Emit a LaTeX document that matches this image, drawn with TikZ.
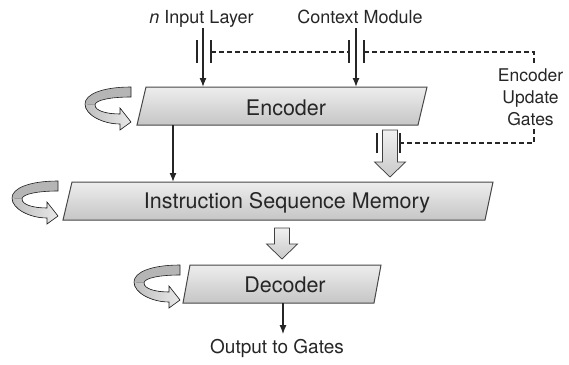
\documentclass[tikz,border=0pt]{standalone}
\usepackage{fontspec}
\setmainfont{TeX Gyre Heros}
\usetikzlibrary{arrows.meta}

\definecolor{ink}{HTML}{262626}
\definecolor{edge}{HTML}{474747}

\tikzset{
  boxshape/.style={draw=edge, line width=1pt, top color=gray!14, bottom color=gray!45},
  boxtext/.style={font=\fontsize{21.5}{24}\selectfont, text=ink, inner sep=0pt, anchor=base},
  toplab/.style={font=\fontsize{18}{22}\selectfont, text=ink, inner sep=0pt, anchor=base, text depth=5pt},
  flow/.style={draw=ink, line width=1.3pt, -{Latex[length=9pt,width=7pt]}},
  gatebar/.style={draw=ink, line width=1.5pt},
  gateline/.style={draw=ink, line width=1.2pt, dash pattern=on 5pt off 3pt},
  blockarrow/.style={draw=gray!50!black, line width=0.7pt, top color=gray!12, bottom color=gray!42},
  ribback/.style={fill=gray!58},
  ribfront/.style={left color=gray!50, right color=gray!18},
  ribedge/.style={draw=gray!25!black, line width=0.6pt},
}

% ribbon-style loop arrow; #1,#2 = upper right corner of its tail
\newcommand\loopribbon[2]{%
  \begin{scope}[shift={(#1,#2)}]
    \fill[ribback] (0,0) .. controls (-28,0) and (-46,7) .. (-46,17)
      -- (-36,18) .. controls (-36,13) and (-20,10) .. (0,10) -- cycle;
    \fill[ribfront] (-46,17) .. controls (-46,28) and (-28,37) .. (-11,37)
      -- (-11,43) -- (0,35) -- (-11,21) -- (-11,27)
      .. controls (-24,27) and (-36,24) .. (-36,18) -- cycle;
    \draw[ribedge] (0,0) .. controls (-28,0) and (-46,7) .. (-46,17)
      .. controls (-46,28) and (-28,37) .. (-11,37)
      -- (-11,43) -- (0,35) -- (-11,21) -- (-11,27)
      .. controls (-24,27) and (-36,24) .. (-36,18)
      .. controls (-36,13) and (-20,10) .. (0,10) -- cycle;
  \end{scope}}

% wide downward block arrow: #1 = centre x, #2 = top y, #3 = tip y
\newcommand\blockdown[3]{%
  \filldraw[blockarrow] (#1-7.5,#2) -- (#1+7.5,#2) -- (#1+7.5,#3-15)
    -- (#1+15.5,#3-15) -- (#1,#3) -- (#1-15.5,#3-15) -- (#1-7.5,#3-15) -- cycle;}

\begin{document}
\begin{tikzpicture}[x=1pt,y=-1pt]
\useasboundingbox (0,0) rectangle (569,364);

% processing stages
\draw[boxshape] (146,87) -- (427,87) -- (418,125) -- (137,125) -- cycle;
\draw[boxshape] (72,182) -- (493,182) -- (485,220) -- (63,220) -- cycle;
\draw[boxshape] (190,265) -- (381,265) -- (374,303) -- (183,303) -- cycle;
\node[boxtext] (enc) at (286,115) {Encoder};
\node[boxtext] (mem) at (287,208.5) {Instruction Sequence Memory};
\node[boxtext] (dec) at (285,292) {Decoder};

% recurrent loops
\loopribbon{131}{87}
\loopribbon{58}{181}
\loopribbon{180}{265}

% inputs and output
\node[toplab] (inlab) at (201.5,23) {\textit{n} Input Layer};
\node[toplab] (ctxlab) at (360,23) {Context Module};
\node[font=\fontsize{19}{22}\selectfont, text=ink, inner sep=0pt, anchor=base]
  (outlab) at (277,353.5) {Output to Gates};
\node[font=\fontsize{17.5}{22}\selectfont, text=ink, inner sep=0pt, align=center]
  (gatelab) at (530.5,97.7) {Encoder\\Update\\Gates};

\coordinate (encin) at (203,87);
\coordinate (ctxin) at (356,87);
\coordinate (encout) at (173,125);
\coordinate (memin) at (173,182);
\coordinate (decout) at (283,303);

\draw[flow] (encin |- inlab.south) -- (encin);
\draw[flow] (ctxin |- ctxlab.south) -- (ctxin);
\draw[flow] (encout) -- (memin);
\draw[flow, shorten >=5pt] (decout) -- (decout |- outlab.north);

% block transfers
\blockdown{390}{130}{177}
\blockdown{282}{228}{259}

% gates
\coordinate (g1l) at (197,52);
\coordinate (g1r) at (211,52);
\coordinate (g2l) at (349,52);
\coordinate (g2r) at (364,52);
\coordinate (g3l) at (377,143);
\coordinate (g3r) at (400,143);
\draw[gatebar] (197,40) -- (197,63) (211,40) -- (211,63);
\draw[gatebar] (349,40) -- (349,63) (364,40) -- (364,63);
\draw[gatebar] (377,133) -- (377,153) (400,133) -- (400,153);

\draw[gateline] (g1r) -- (g2l);
\draw[gateline, shorten >=3pt] (g2r) -| (gatelab.north -| 534,0);
\draw[gateline, shorten <=3pt] (gatelab.south -| 534,0) |- (g3r);
\end{tikzpicture}
\end{document}
